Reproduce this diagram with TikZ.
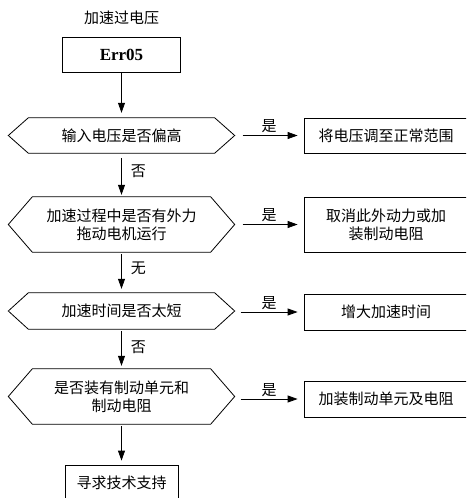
\documentclass[tikz,border=0pt]{standalone}
\usepackage{fontspec}
\newfontfamily\cjk{Noto Sans CJK SC}
\newfontfamily\tnr{Liberation Serif}
\usetikzlibrary{arrows.meta}
\newcommand\hexpath[2]{\draw[line width=0.8pt] (#1.west) -- ([xshift=#2]#1.north west) -- ([xshift=-#2]#1.north east) -- (#1.east) -- ([xshift=-#2]#1.south east) -- ([xshift=#2]#1.south west) -- cycle;}
\begin{document}
\begin{tikzpicture}[x=1pt,y=-1pt,
  txt/.style={font=\cjk\fontsize{15}{18}\selectfont, inner sep=0pt, align=center},
  box/.style={txt, draw, line width=0.8pt},
  hexnode/.style={txt, minimum width=226pt},
  arr/.style={-{Triangle[length=10pt,width=7pt]}, line width=0.8pt},
  vlbl/.style={txt, anchor=west, xshift=9pt},
  hlbl/.style={txt, anchor=south, yshift=2pt}]
\useasboundingbox (0,0) rectangle (466,498);
\clip (0,0) rectangle (466,498);

\node[txt] (title) at (121.5,18) {加速过电压};
\node[box, font=\tnr\bfseries\fontsize{17}{20}\selectfont, minimum width=118pt, minimum height=35pt] (err) at (121.5,54.5) {Err05};

\node[hexnode, minimum height=35pt] (h1) at (121.5,135.5) {输入电压是否偏高};
\node[hexnode, minimum height=55pt] (h2) at (121.5,224.5) {加速过程中是否有外力\\拖动电机运行};
\node[hexnode, minimum height=36pt] (h3) at (121.5,311) {加速时间是否太短};
\node[hexnode, minimum height=55pt] (h4) at (121.5,396.5) {是否装有制动单元和\\制动电阻};
\hexpath{h1}{20pt}
\hexpath{h2}{24pt}
\hexpath{h3}{20pt}
\hexpath{h4}{24pt}

\node[box, minimum width=164pt, minimum height=35pt] (b1) at (386,135.5) {将电压调至正常范围};
\node[box, minimum width=164pt, minimum height=55pt] (b2) at (386,224.5) {取消此外动力或加\\装制动电阻};
\node[box, minimum width=164pt, minimum height=36pt] (b3) at (386,312) {增大加速时间};
\node[box, minimum width=164pt, minimum height=36pt] (b4) at (386,399) {加装制动单元及电阻};
\node[box, minimum width=113pt, minimum height=36pt] (b5) at (121.5,483) {寻求技术支持};

\draw[arr, shorten >=5pt] (err) -- (h1);
\draw[arr, shorten <=5pt, shorten >=2pt] (h1) -- node[vlbl, pos=0.42] {否} (h2);
\draw[arr, shorten <=2pt, shorten >=4pt] (h2) -- node[vlbl, pos=0.4] {无} (h3);
\draw[arr, shorten <=2pt, shorten >=3pt] (h3) -- node[vlbl, pos=0.45] {否} (h4);
\draw[arr, shorten <=2pt, shorten >=4pt] (h4) -- (b5);

\draw[arr, shorten <=8pt, shorten >=6pt] (h1.east |- b1.west) -- node[hlbl] {是} (b1.west);
\draw[arr, shorten <=8pt, shorten >=6pt] (h2.east |- b2.west) -- node[hlbl] {是} (b2.west);
\draw[arr, shorten <=6pt, shorten >=6pt] (h3.east |- b3.west) -- node[hlbl] {是} (b3.west);
\draw[arr, shorten <=6pt, shorten >=6pt] (h4.east |- b4.west) -- node[hlbl] {是} (b4.west);
\end{tikzpicture}
\end{document}
